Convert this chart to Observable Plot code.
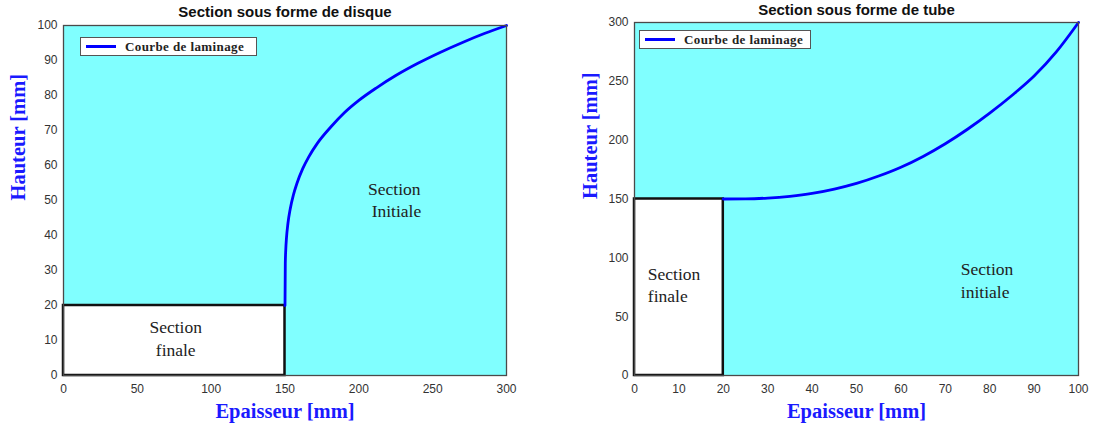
<!DOCTYPE html>
<html>
<head>
<meta charset="utf-8">
<script src="https://cdn.jsdelivr.net/npm/d3@7"></script>
<script src="https://cdn.jsdelivr.net/npm/@observablehq/plot@0.6"></script>
<style>
  html, body { margin: 0; padding: 0; background: white; }
  #root { position: relative; width: 1095px; height: 425px; overflow: hidden; }
  .panel { position: absolute; top: 0; }
  .legend { position: absolute; background: white; border: 1px solid #555; box-sizing: border-box;
            height: 19px; display: flex; align-items: center; font-family: "Liberation Serif", serif;
            font-weight: bold; font-size: 13px; color: #222; letter-spacing: 0.4px; }
  .legend .sw { width: 30px; height: 3px; background: #0000ff; margin: 0 9px 0 5px; }
</style>
</head>
<body>
<div id="root"></div>
<script>
// ---- Left chart: disque ----
const titleL = "Section sous forme de disque";
const xTicksL = [0, 50, 100, 150, 200, 250, 300];
const yTicksL = [0, 10, 20, 30, 40, 50, 60, 70, 80, 90, 100];
const curveLx = [150, 150.2, 150.5, 151, 152, 153.5, 155.7, 158, 162, 166, 172, 181, 190, 200, 212, 225, 240, 255, 271, 285, 300];
const curveLy = [20, 32, 35.8, 39.3, 43.5, 47.5, 51.6, 54.8, 59.1, 62.4, 66.4, 71, 75, 78.6, 82.2, 85.7, 89.2, 92.3, 95.3, 97.7, 100];
const finalL = {x1: 0, x2: 150, y1: 0, y2: 20};
const labelsL = [
  {x: 224, y: 50.5, text: "Section\n Initiale"},
  {x: 76, y: 11, text: "Section\nfinale"}
];

// ---- Right chart: tube ----
const titleR = "Section sous forme de tube";
const xTicksR = [0, 10, 20, 30, 40, 50, 60, 70, 80, 90, 100];
const yTicksR = [0, 50, 100, 150, 200, 250, 300];
const curveRx = [20, 25, 30, 35, 40, 45, 50, 55, 60, 65, 70, 75, 80, 85, 90, 95, 100];
const curveRy = [150, 150.1, 150.8, 152.3, 154.7, 158.4, 163.2, 169.5, 177, 186.2, 197, 209.3, 223, 238, 254.5, 275, 300];
const finalR = {x1: 0, x2: 20, y1: 0, y2: 150};
const labelsR = [
  {x: 3, y: 78, text: "Section\nfinale"},
  {x: 73.5, y: 82, text: "Section\ninitiale"}
];

const xLabel = "Epaisseur [mm]";
const yLabel = "Hauteur [mm]";
const legendText = "Courbe de laminage";

const cyan = "#80ffff";
const tickFont = "Liberation Sans, Arial, sans-serif";

function makePanel(o) {
  const curve = o.cx.map((x, i) => ({x, y: o.cy[i]}));
  return Plot.plot({
    width: o.width, height: 425,
    marginLeft: o.ml, marginRight: o.mr, marginTop: o.mt, marginBottom: 50,
    style: {fontFamily: tickFont, fontSize: "12px", color: "#333", background: "transparent", overflow: "visible"},
    x: {domain: o.xdom, ticks: o.xticks, tickSize: 0, tickPadding: 9, label: null},
    y: {domain: o.ydom, ticks: o.yticks, tickSize: 0, tickPadding: 6, label: null},
    marks: [
      Plot.frame({fill: cyan}),
      Plot.rect([o.fin], {x1: "x1", x2: "x2", y1: "y1", y2: "y2", fill: "white", stroke: "#111", strokeWidth: 2.5}),
      Plot.line(curve, {x: "x", y: "y", stroke: "#0000ff", strokeWidth: 2.8, curve: "monotone-x"}),
      Plot.text(o.labels, {x: "x", y: "y", text: "text", textAnchor: o.anchor, lineHeight: 1.3,
        fontFamily: "Liberation Serif, serif", fontSize: 17.5, fill: "#222", letterSpacing: 0.6}),
      Plot.frame({stroke: "#4a4a4a", strokeWidth: 1.3}),
      Plot.axisX({ticks: o.xticks, tickSize: 0, tickPadding: 9, label: null, fill: "#333", fontSize: 12}),
      Plot.axisY({ticks: o.yticks, tickSize: 0, tickPadding: 6, label: null, fill: "#333", fontSize: 12}),
      Plot.text([o.title], {frameAnchor: "top", dy: o.tdy, lineAnchor: "middle",
        fontFamily: tickFont, fontWeight: "bold", fontSize: 15, fill: "#111"}),
      Plot.text([xLabel], {frameAnchor: "bottom", dy: 36, lineAnchor: "middle",
        fontFamily: "Liberation Serif, serif", fontWeight: "bold", fontSize: 20.5, fill: "#1a1aff", letterSpacing: 0.6}),
      Plot.text([yLabel], {frameAnchor: "left", dx: o.ydx, rotate: -90, lineAnchor: "middle",
        fontFamily: "Liberation Serif, serif", fontWeight: "bold", fontSize: 20.5, fill: "#1a1aff", letterSpacing: 0.6})
    ]
  });
}

const root = document.getElementById("root");

const left = makePanel({
  width: 520, ml: 63, mr: 14, mt: 25, xdom: [0, 300], ydom: [0, 100],
  xticks: xTicksL, yticks: yTicksL, cx: curveLx, cy: curveLy, fin: finalL,
  labels: labelsL, anchor: "middle", title: titleL, tdy: -13, ydx: -45
});
const divL = document.createElement("div");
divL.className = "panel"; divL.style.left = "0px"; divL.appendChild(left);
root.appendChild(divL);

const right = makePanel({
  width: 535, ml: 74, mr: 17, mt: 22, xdom: [0, 100], ydom: [0, 300],
  xticks: xTicksR, yticks: yTicksR, cx: curveRx, cy: curveRy, fin: finalR,
  labels: labelsR, anchor: "start", title: titleR, tdy: -12, ydx: -44
});
const divR = document.createElement("div");
divR.className = "panel"; divR.style.left = "560px"; divR.appendChild(right);
root.appendChild(divR);

function addLegend(x, y, w) {
  const d = document.createElement("div");
  d.className = "legend";
  d.style.left = x + "px"; d.style.top = y + "px"; d.style.width = w + "px";
  const sw = document.createElement("span"); sw.className = "sw";
  const t = document.createElement("span"); t.textContent = legendText;
  d.appendChild(sw); d.appendChild(t);
  root.appendChild(d);
}
addLegend(80, 37, 177);
addLegend(639, 30, 172);
</script>
</body>
</html>
